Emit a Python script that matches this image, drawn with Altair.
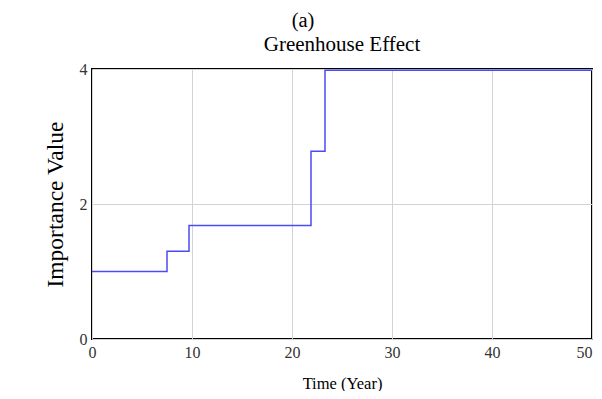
import altair as alt
import pandas as pd

# Data (step function)
years = [0, 7.5, 9.7, 21.9, 23.3, 50]
importance = [1.0, 1.3, 1.68, 2.78, 3.98, 3.98]

panel_label = ["(a)"]
chart_title = ["Greenhouse Effect"]

df = pd.DataFrame({"Time": years, "Value": importance})
lab = pd.DataFrame({"t": panel_label})
ttl = pd.DataFrame({"t": chart_title})

FONT = "Liberation Serif"

line = alt.Chart(df).mark_line(
    interpolate="step-after", color="#4b4bf5", strokeWidth=1.5, clip=True
).encode(
    x=alt.X("Time:Q", title="Time (Year)",
            scale=alt.Scale(domain=[0, 50], nice=False),
            axis=alt.Axis(values=[0, 10, 20, 30, 40, 50], grid=True, domain=False,
                          ticks=False, labelPadding=5, titlePadding=15,
                          labelFlush=False,
                          labelAlign={"expr": "datum.value == 50 ? 'right' : 'center'"},
                          labelBound=False)),
    y=alt.Y("Value:Q", title="Importance Value",
            scale=alt.Scale(domain=[0, 4], nice=False),
            axis=alt.Axis(values=[0, 2, 4], grid=True, domain=False, ticks=False,
                          labelPadding=5, titlePadding=12, labelFlush=False)),
)

label = alt.Chart(lab).mark_text(
    font=FONT, fontSize=20.5, color="black", align="center", baseline="alphabetic"
).encode(
    text="t:N",
    x=alt.value(211),
    y=alt.value(-42),
)

title = alt.Chart(ttl).mark_text(
    font=FONT, fontSize=21, color="black", align="center", baseline="alphabetic"
).encode(
    text="t:N",
    x=alt.value(250),
    y=alt.value(-18),
)

chart = alt.layer(line, label, title).properties(
    width=500,
    height=270,
    autosize=alt.AutoSizeParams(type="none"),
    padding={"left": 84, "top": 61, "right": 2, "bottom": 52},
).configure_view(
    stroke="black", strokeWidth=2
).configure_axis(
    labelFont=FONT, labelFontSize=16, labelColor="#333333",
    titleFont=FONT, titleFontWeight="normal", titleColor="black",
    gridColor="#d3d3d3", gridWidth=1,
).configure_axisX(
    titleFontSize=16.5
).configure_axisY(
    titleFontSize=23.5
)

chart.save("out.html", embed_options={"renderer": "svg", "actions": False})
